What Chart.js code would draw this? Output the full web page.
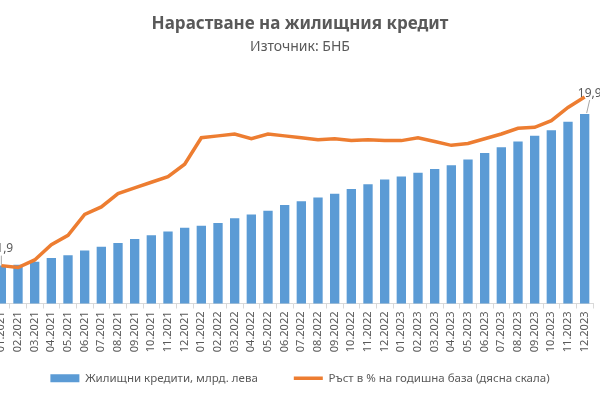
<!DOCTYPE html>
<html>
<head>
<meta charset="utf-8">
<script src="https://cdn.jsdelivr.net/npm/chart.js@4.4.1/dist/chart.umd.min.js"></script>
<style>
  html, body { margin: 0; padding: 0; background: #fff; overflow: hidden; }
  #wrap { position: absolute; left: -7px; top: 0; width: 614px; height: 400px; }
</style>
</head>
<body>
<div id="wrap"><canvas id="chart"></canvas></div>
<script>
const months = [
  '01.2021', '02.2021', '03.2021', '04.2021', '05.2021', '06.2021',
  '07.2021', '08.2021', '09.2021', '10.2021', '11.2021', '12.2021',
  '01.2022', '02.2022', '03.2022', '04.2022', '05.2022', '06.2022',
  '07.2022', '08.2022', '09.2022', '10.2022', '11.2022', '12.2022',
  '01.2023', '02.2023', '03.2023', '04.2023', '05.2023', '06.2023',
  '07.2023', '08.2023', '09.2023', '10.2023', '11.2023', '12.2023',
];

// housing loans, bln leva (left scale)
const loans = [
  11.9, 11.95, 12.1, 12.3, 12.45, 12.7, 12.9, 13.1, 13.3, 13.5, 13.7, 13.9,
  14.0, 14.15, 14.4, 14.6, 14.8, 15.1, 15.3, 15.5, 15.7, 15.95, 16.2, 16.45,
  16.6, 16.8, 17.0, 17.2, 17.5, 17.85, 18.15, 18.45, 18.75, 19.05, 19.5, 19.9,
];

// annual growth, % (right scale)
const growth = [
  11.0, 10.9, 11.3, 12.1, 12.6, 13.7, 14.1, 14.8, 15.1, 15.4, 15.7, 16.35,
  17.75, 17.85, 17.95, 17.7, 17.95, 17.85, 17.75, 17.65, 17.7, 17.6, 17.65, 17.6,
  17.6, 17.75, 17.55, 17.35, 17.45, 17.7, 17.95, 18.25, 18.3, 18.65, 19.35, 19.9,
];

const loansRange = [9.9, 21.9];
const growthRange = [9, 21];
const labelledBars = [0, 35];

const textColor = '#595959';
const blue = '#5B9BD5';
const orange = '#ED7D31';
const fontFamily = '"Noto Sans", "Open Sans", sans-serif';

// labels on first and last bar, with a short leader line
const barLabels = {
  id: 'barLabels',
  afterDatasetsDraw(chart) {
    const meta = chart.getDatasetMeta(0);
    const ctx = chart.ctx;
    ctx.save();
    ctx.font = '12px ' + fontFamily;
    ctx.fillStyle = textColor;
    ctx.strokeStyle = '#a6a6a6';
    ctx.lineWidth = 1;
    ctx.textAlign = 'center';
    ctx.textBaseline = 'middle';
    labelledBars.forEach((i) => {
      const el = meta.data[i];
      const last = i === loans.length - 1;
      const dx = last ? 5 : 0;
      const dy = last ? 21 : 17;
      const text = loans[i].toFixed(1).replace('.', ',');
      ctx.fillText(text, el.x + dx, el.y - dy);
      ctx.beginPath();
      ctx.moveTo(el.x + dx, el.y - dy + 7);
      ctx.lineTo(el.x + (last ? 2 : 0), el.y - 1);
      ctx.stroke();
    });
    ctx.restore();
  },
};

// the x axis box is kept short so the legend can sit close; let its labels draw below it
const xLabelRoom = {
  id: 'xLabelRoom',
  afterLayout(chart) {
    const x = chart.scales.x;
    x.bottom = x.top + 60;
  },
};

new Chart(document.getElementById('chart'), {
  type: 'bar',
  data: {
    labels: months,
    datasets: [
      {
        label: 'Жилищни кредити, млрд. лева',
        data: loans,
        backgroundColor: blue,
        borderWidth: 0,
        barPercentage: 0.56,
        categoryPercentage: 1.0,
        yAxisID: 'y',
        order: 1,
      },
      {
        type: 'line',
        label: 'Ръст в % на годишна база (дясна скала)',
        data: growth,
        borderColor: orange,
        backgroundColor: orange,
        borderWidth: 3.5,
        pointRadius: 0,
        tension: 0,
        yAxisID: 'y1',
        order: 0,
      },
    ],
  },
  options: {
    responsive: true,
    maintainAspectRatio: false,
    animation: false,
    layout: { padding: { left: 0, right: 0, top: 0, bottom: 6 } },
    plugins: {
      title: {
        display: true,
        text: 'Нарастване на жилищния кредит',
        color: textColor,
        font: { family: fontFamily, size: 17, weight: 'bold' },
        padding: { top: 14, bottom: 0 },
      },
      subtitle: {
        display: true,
        text: 'Източник: БНБ',
        color: textColor,
        font: { family: fontFamily, size: 14 },
        padding: { top: 4, bottom: 21 },
      },
      legend: {
        position: 'bottom',
        labels: {
          color: textColor,
          font: { family: fontFamily, size: 11.5 },
          usePointStyle: true,
          pointStyleWidth: 29,
          boxHeight: 8,
          padding: 36,
          sort: (a, b) => a.datasetIndex - b.datasetIndex,
          generateLabels: (chart) =>
            Chart.defaults.plugins.legend.labels.generateLabels(chart).map((item) => ({
              ...item,
              pointStyle: item.datasetIndex === 0 ? 'rect' : 'line',
              lineWidth: item.datasetIndex === 0 ? 0 : 3.5,
            })),
        },
      },
      tooltip: { enabled: false },
    },
    scales: {
      x: {
        afterFit: (scale) => { scale.height = 33; },
        grid: { drawOnChartArea: false, drawTicks: true, tickLength: 5, color: '#d9d9d9' },
        border: { display: true, color: '#d9d9d9' },
        ticks: {
          color: textColor,
          font: { family: fontFamily, size: 11 },
          minRotation: 90,
          maxRotation: 90,
          autoSkip: false,
          padding: 3,
        },
      },
      y: {
        display: false,
        position: 'left',
        min: loansRange[0],
        max: loansRange[1],
      },
      // right scale is not drawn, it only keeps an empty strip on the right
      y1: {
        display: true,
        position: 'right',
        min: growthRange[0],
        max: growthRange[1],
        afterFit: (scale) => { scale.width = 14; },
        grid: { display: false },
        border: { display: false },
        ticks: { display: false },
      },
    },
  },
  plugins: [barLabels, xLabelRoom],
});
</script>
</body>
</html>
